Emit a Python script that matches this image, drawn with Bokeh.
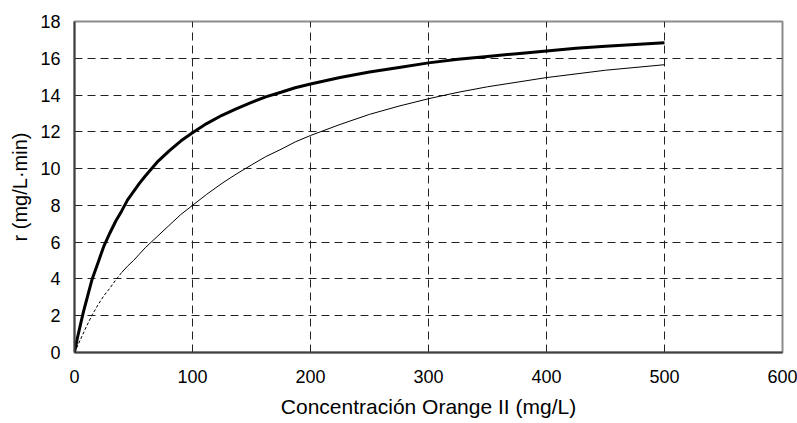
from bokeh.plotting import figure
from bokeh.models import FixedTicker, Range1d
from bokeh.embed import file_html
from bokeh.resources import INLINE

# Tick values
x_ticks = [0, 100, 200, 300, 400, 500, 600]
y_ticks = [0, 2, 4, 6, 8, 10, 12, 14, 16, 18]

# Thick curve
conc_thick = [0, 2.5, 5, 7.5, 10, 12.5, 15, 17.5, 20, 25, 30, 35, 40, 45, 50, 55, 60,
              70, 80, 90, 100, 112, 125, 137, 150, 162, 175, 187, 200, 225, 250, 275,
              300, 325, 350, 375, 400, 425, 450, 475, 500]
r_thick = [0, 0.8, 1.5, 2.2, 2.8, 3.4, 4.0, 4.45, 4.9, 5.8, 6.5, 7.15, 7.7, 8.3, 8.75,
           9.2, 9.6, 10.35, 10.95, 11.5, 11.95, 12.45, 12.9, 13.25, 13.6, 13.9, 14.15,
           14.4, 14.6, 14.95, 15.25, 15.5, 15.75, 15.95, 16.1, 16.25, 16.4, 16.55,
           16.65, 16.75, 16.85]

# Thin curve: dashed start segment and solid remainder
conc_thin_dash = [0, 5, 10, 15, 20, 25, 30, 35, 40]
r_thin_dash = [0, 0.7, 1.4, 2.05, 2.6, 3.1, 3.5, 3.95, 4.35]
conc_thin = [40, 45, 50, 55, 60, 70, 80, 90, 100, 112, 125, 137, 150, 162, 175, 187,
             200, 225, 250, 275, 300, 325, 350, 375, 400, 425, 450, 475, 500]
r_thin = [4.35, 4.7, 5.0, 5.35, 5.7, 6.3, 6.9, 7.5, 8.0, 8.6, 9.2, 9.7, 10.2, 10.65,
          11.05, 11.45, 11.8, 12.4, 12.95, 13.4, 13.8, 14.15, 14.45, 14.7, 14.95,
          15.15, 15.35, 15.5, 15.65]

x_title = "Concentración Orange II (mg/L)"
y_title = "r (mg/L·min)"

p = figure(width=797, height=423, output_backend="svg", toolbar_location=None,
           x_range=Range1d(0, 600), y_range=Range1d(0, 18),
           min_border_left=74, min_border_right=15, min_border_top=21, min_border_bottom=71)
p.background_fill_color = "white"
p.border_fill_color = "white"
p.outline_line_color = "#8c8c8c"
p.outline_line_width = 2

p.line(conc_thick, r_thick, line_color="black", line_width=3)
p.line(conc_thin_dash, r_thin_dash, line_color="black", line_width=1, line_dash="3 2")
p.line(conc_thin, r_thin, line_color="black", line_width=1)

for ax in (p.xaxis[0], p.yaxis[0]):
    ax.axis_line_color = "#404040"
    ax.axis_line_width = 2
    ax.major_tick_in = 0
    ax.major_tick_out = 0
    ax.minor_tick_in = 0
    ax.minor_tick_out = 0
    ax.major_label_text_font = "Liberation Sans"
    ax.major_label_text_font_size = "18px"
    ax.major_label_text_color = "black"
    ax.axis_label_text_font = "Liberation Sans"
    ax.axis_label_text_font_style = "normal"
    ax.axis_label_text_color = "black"

p.xaxis.ticker = FixedTicker(ticks=x_ticks)
p.yaxis.ticker = FixedTicker(ticks=y_ticks)
p.xaxis.axis_label = x_title
p.yaxis.axis_label = y_title
p.xaxis.axis_label_text_font_size = "21px"
p.yaxis.axis_label_text_font_size = "20px"
p.xaxis.major_label_standoff = 17
p.yaxis.major_label_standoff = 14
p.xaxis.axis_label_standoff = 9
p.yaxis.axis_label_standoff = 6

for g in (p.xgrid[0], p.ygrid[0]):
    g.grid_line_color = "#222222"
    g.grid_line_width = 1
    g.grid_line_dash = "8 5"

open("out.html", "w").write(file_html(p, INLINE))
